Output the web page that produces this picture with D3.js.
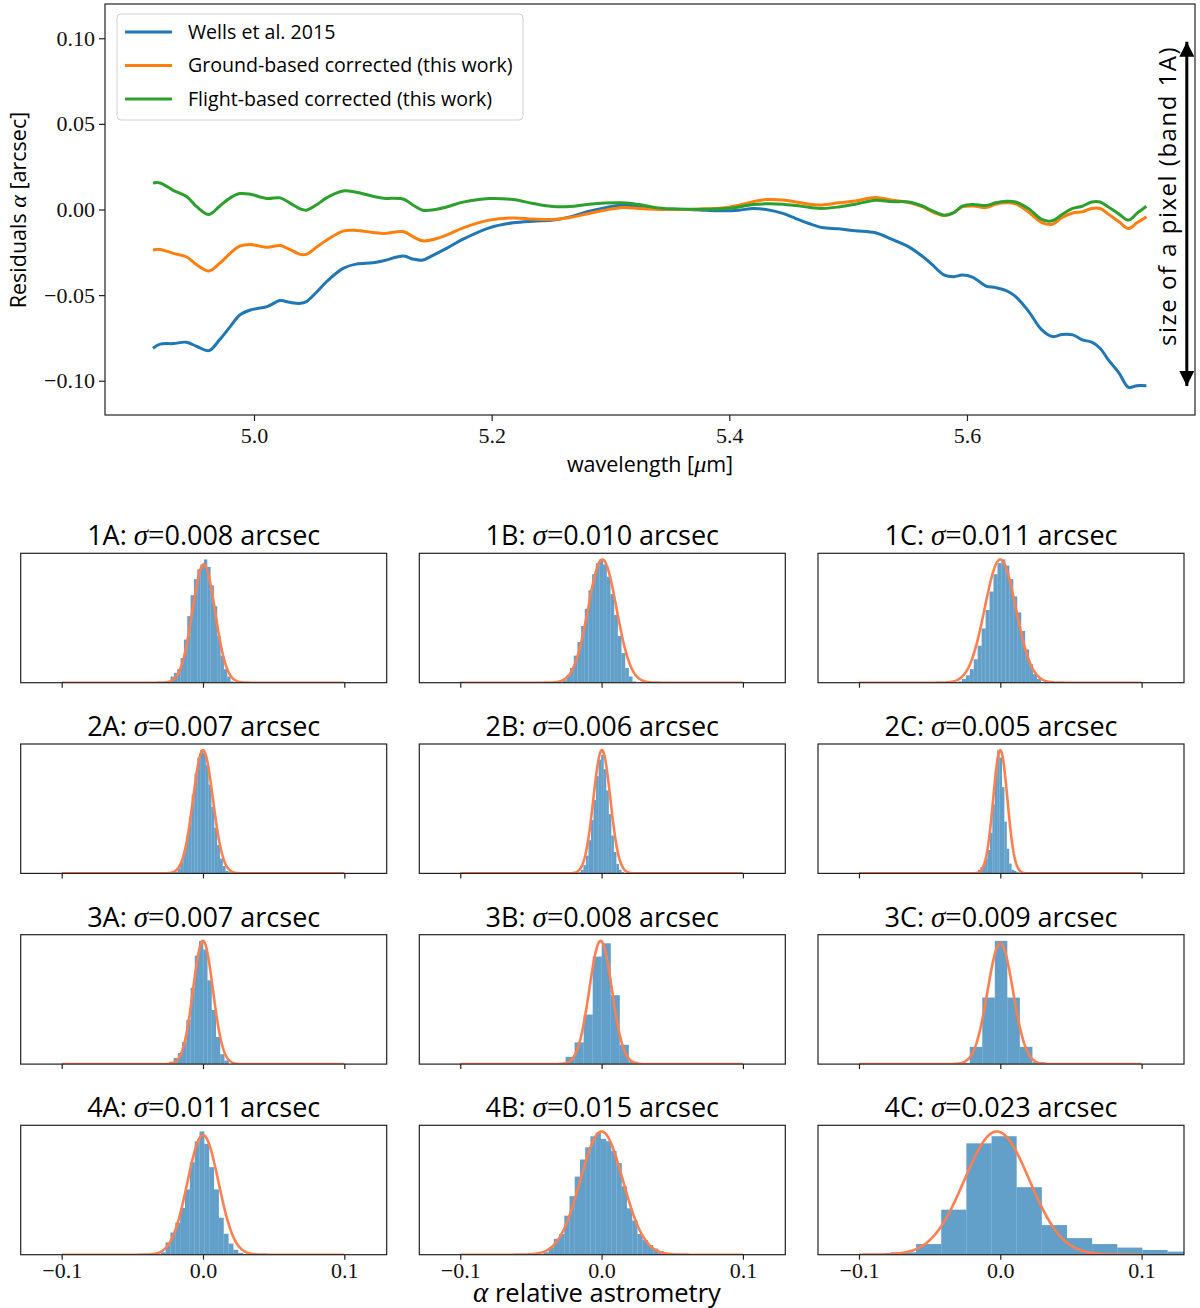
<!DOCTYPE html>
<html>
<head>
<meta charset="utf-8">
<script src="https://cdn.jsdelivr.net/npm/d3@7"></script>
<style>
  body { margin: 0; background: #fff; }
  svg text { font-family: "Open Sans", sans-serif; }
  .num { font-family: "Liberation Serif", serif; }
  .math { font-family: "Liberation Serif", serif; font-style: italic; }
</style>
</head>
<body>
<svg id="chart" width="1200" height="1308"></svg>
<script>
// ---- top panel: residuals vs wavelength ----
var wave = [4.915, 4.921, 4.932, 4.943, 4.952, 4.962, 4.971, 4.980, 4.988, 4.997, 5.011, 5.022, 5.030, 5.039, 5.044, 5.053, 5.061, 5.075, 5.086, 5.100, 5.109, 5.126, 5.134, 5.142, 5.151, 5.162, 5.176, 5.198, 5.218, 5.235, 5.252, 5.266, 5.282, 5.310,
            5.324, 5.338, 5.352, 5.366, 5.380, 5.394, 5.408, 5.420, 5.431, 5.445, 5.456, 5.467, 5.478, 5.492, 5.506, 5.523, 5.537, 5.551, 5.563, 5.571, 5.581, 5.589, 5.596, 5.605, 5.616, 5.624, 5.633, 5.641, 5.652, 5.663, 5.672, 5.680, 5.689, 5.697, 5.705, 5.712, 5.719, 5.728, 5.736, 5.743, 5.751]

var wells = [-0.0810, -0.0786, -0.0783, -0.0775, -0.0800, -0.0824, -0.0761, -0.0684, -0.0616, -0.0587, -0.0567, -0.0532, -0.0542, -0.0548, -0.0538, -0.0480, -0.0422, -0.0344, -0.0319, -0.0311, -0.0299, -0.0272, -0.0290, -0.0295, -0.0266, -0.0227, -0.0173, -0.0107, -0.0078, -0.0068, -0.0062, -0.0043, -0.0010, 0.0025,
             0.0019, 0.0004, 0.0000, 0.0000, -0.0004, -0.0008, -0.0004, 0.0006, 0.0000, -0.0023, -0.0053, -0.0082, -0.0105, -0.0113, -0.0124, -0.0136, -0.0175, -0.0218, -0.0276, -0.0324, -0.0383, -0.0392, -0.0383, -0.0396, -0.0447, -0.0456, -0.0474, -0.0509, -0.0596, -0.0703, -0.0742, -0.0730, -0.0732, -0.0761, -0.0775, -0.0810, -0.0878, -0.0955, -0.1039, -0.1029, -0.1029]

var ground = [-0.0237, -0.0233, -0.0256, -0.0276, -0.0324, -0.0359, -0.0315, -0.0256, -0.0214, -0.0204, -0.0221, -0.0210, -0.0233, -0.0262, -0.0262, -0.0218, -0.0179, -0.0126, -0.0122, -0.0134, -0.0140, -0.0130, -0.0160, -0.0183, -0.0175, -0.0150, -0.0107, -0.0062, -0.0049, -0.0056, -0.0058, -0.0047, -0.0023, 0.0012,
              0.0006, 0.0002, 0.0000, 0.0000, 0.0004, 0.0009, 0.0025, 0.0046, 0.0058, 0.0056, 0.0044, 0.0031, 0.0027, 0.0039, 0.0050, 0.0070, 0.0054, 0.0041, 0.0015, -0.0014, -0.0035, -0.0018, 0.0015, 0.0021, 0.0011, 0.0031, 0.0039, 0.0033, -0.0016, -0.0076, -0.0086, -0.0047, -0.0020, -0.0014, 0.0006, 0.0006, -0.0027, -0.0072, -0.0111, -0.0078, -0.0043]

var flight = [0.0155, 0.0155, 0.0112, 0.0077, 0.0015, -0.0029, 0.0019, 0.0068, 0.0093, 0.0089, 0.0064, 0.0068, 0.0039, 0.0004, -0.0004, 0.0029, 0.0068, 0.0108, 0.0101, 0.0077, 0.0066, 0.0060, 0.0025, -0.0004, -0.0002, 0.0015, 0.0043, 0.0064, 0.0058, 0.0035, 0.0017, 0.0017, 0.0031, 0.0039,
              0.0029, 0.0011, 0.0004, 0.0002, 0.0002, 0.0004, 0.0015, 0.0029, 0.0033, 0.0031, 0.0023, 0.0013, 0.0006, 0.0015, 0.0031, 0.0054, 0.0046, 0.0044, 0.0019, -0.0008, -0.0033, -0.0018, 0.0019, 0.0029, 0.0023, 0.0039, 0.0048, 0.0044, 0.0004, -0.0058, -0.0066, -0.0029, 0.0006, 0.0019, 0.0044, 0.0044, 0.0015, -0.0027, -0.0062, -0.0023, 0.0019]

var seriesNames = ["Wells et al. 2015", "Ground-based corrected (this work)", "Flight-based corrected (this work)"]
var seriesColors = ["#1f77b4", "#ff7f0e", "#2ca02c"]
var waveTicks = [5.0, 5.2, 5.4, 5.6]
var resTicks = [-0.10, -0.05, 0.00, 0.05, 0.10]
var pixelArrow = [0.098, -0.103]   // band 1A pixel size, drawn at wavelength 5.785

// ---- bottom panels: histograms of relative astrometry ----
var panelNames = ["1A", "1B", "1C", "2A", "2B", "2C", "3A", "3B", "3C", "4A", "4B", "4C"]
var panelSigmas = [0.008, 0.010, 0.011, 0.007, 0.006, 0.005, 0.007, 0.008, 0.009, 0.011, 0.015, 0.023]
var panelMeans = [0.0005, 0.0005, 0.0000, 0.0000, 0.0002, 0.0000, 0.0000, -0.0007, 0.0000, 0.0000, 0.0000, -0.0024]
var gaussPeaks = [0.96, 1.0, 1.0, 1.0, 1.04, 1.0, 1.0, 1.02, 0.98, 0.97, 1.01, 1.04]
var binStarts = [-0.0253, -0.0275, -0.0300, -0.0200, -0.0165, -0.0175, -0.0238, -0.0319, -0.0305, -0.0299, -0.0412, -0.0774]
var binWidths = [0.00236, 0.0026, 0.0028, 0.0020, 0.0018, 0.0017, 0.0030, 0.0064, 0.00887, 0.00343, 0.0037, 0.0178]
var binHeights = [
  [1, 5, 8, 11, 20, 35, 54, 71, 84, 92, 96, 100, 94, 79, 62, 38, 22, 11, 5, 1],
  [2, 6, 12, 22, 33, 46, 60, 75, 88, 97, 100, 96, 86, 72, 55, 38, 24, 12, 5, 1],
  [1, 3, 6, 11, 19, 30, 44, 59, 74, 88, 97, 100, 95, 84, 70, 57, 42, 27, 15, 7, 3],
  [1, 4, 9, 17, 30, 46, 64, 81, 94, 100, 98, 88, 72, 54, 37, 23, 12, 6, 2, 1],
  [1, 3, 7, 15, 28, 45, 62, 82, 96, 100, 88, 70, 50, 32, 18, 8, 3, 1],
  [1, 3, 5, 8, 12, 19, 33, 56, 83, 100, 94, 70, 42, 20, 8, 3, 2, 1, 0.5, 0.3],
  [2, 5, 9, 18, 36, 62, 88, 100, 93, 68, 44, 22, 8, 3],
  [1, 6, 18, 41, 89, 100, 57, 16, 2],
  [1, 14, 54, 100, 54, 14, 1.5],
  [2, 10, 18, 26, 38, 53, 75, 92, 100, 90, 71, 53, 30, 17, 9, 4, 1.5],
  [2, 6, 13, 17, 32, 48, 64, 78, 88, 97, 100, 95, 93, 85, 75, 56, 38, 28, 17, 12, 8, 5, 3, 1.5],
  [2, 9, 38, 94, 100, 57, 25, 14, 9, 6, 4, 2.6]
]
var histTicks = [-0.1, 0.0, 0.1]

var svg = d3.select("#chart")
var defs = svg.append("defs")

// ================= top panel =================
var box = {left: 105, right: 1195, top: 4, bottom: 415}

var xScale = d3.scaleLinear()
               .domain([4.8746, 5.7919])
               .range([box.left, box.right])

var yScale = d3.scaleLinear()
               .domain([-0.12, 0.12])
               .range([box.bottom, box.top])

var xAxis = svg.append("g")
               .attr("transform", "translate(0," + box.bottom + ")")
               .call(d3.axisBottom(xScale).tickValues(waveTicks).tickFormat(d3.format(".1f")).tickSize(6).tickSizeOuter(0))
xAxis.select(".domain").remove()
xAxis.selectAll("line").attr("stroke", "#222").attr("stroke-width", 1.2)
xAxis.selectAll("text").attr("class", "num").attr("font-size", 22).attr("fill", "#111").attr("dy", "0.85em")

var yAxis = svg.append("g")
               .attr("transform", "translate(" + box.left + ",0)")
               .call(d3.axisLeft(yScale).tickValues(resTicks).tickFormat(d3.format(".2f")).tickSize(6).tickSizeOuter(0))
yAxis.select(".domain").remove()
yAxis.selectAll("line").attr("stroke", "#222").attr("stroke-width", 1.2)
yAxis.selectAll("text").attr("class", "num").attr("font-size", 22).attr("fill", "#111").attr("x", -10)

defs.append("clipPath").attr("id", "topclip")
    .append("rect")
    .attr("x", box.left).attr("y", box.top)
    .attr("width", box.right - box.left).attr("height", box.bottom - box.top)

var series = [wells, ground, flight]
var line = d3.line()
             .x(function(d, i){ return xScale(wave[i]); })
             .y(function(d){ return yScale(d); })
             .curve(d3.curveCatmullRom)

svg.append("g").attr("clip-path", "url(#topclip)")
   .selectAll("path")
   .data(series)
   .enter()
   .append("path")
   .attr("d", function(d){ return line(d); })
   .attr("fill", "none")
   .attr("stroke", function(d, i){ return seriesColors[i]; })
   .attr("stroke-width", 3)
   .attr("stroke-linejoin", "round")

// pixel-size double arrow
defs.append("marker")
    .attr("id", "head")
    .attr("viewBox", "0 0 10 10")
    .attr("refX", 10).attr("refY", 5)
    .attr("markerUnits", "userSpaceOnUse")
    .attr("markerWidth", 24).attr("markerHeight", 15)
    .attr("orient", "auto-start-reverse")
    .append("path").attr("d", "M0,0 L10,5 L0,10 Z").attr("fill", "#000")

svg.append("line")
   .attr("x1", xScale(5.785)).attr("x2", xScale(5.785))
   .attr("y1", yScale(pixelArrow[0])).attr("y2", yScale(pixelArrow[1]))
   .attr("stroke", "#000").attr("stroke-width", 3)
   .attr("marker-start", "url(#head)")
   .attr("marker-end", "url(#head)")

svg.append("text")
   .attr("transform", "translate(1176,196) rotate(-90)")
   .attr("text-anchor", "middle")
   .attr("font-size", 24)
   .attr("letter-spacing", 1.5)
   .text("size of a pixel (band 1A)")

// frame
svg.append("rect")
   .attr("x", box.left).attr("y", box.top)
   .attr("width", box.right - box.left).attr("height", box.bottom - box.top)
   .attr("fill", "none").attr("stroke", "#222").attr("stroke-width", 1.2)

// legend
var legend = svg.append("g")
legend.append("rect")
      .attr("x", 117).attr("y", 14).attr("width", 406).attr("height", 106).attr("rx", 4)
      .attr("fill", "#fff").attr("fill-opacity", 0.8)
      .attr("stroke", "#d0d0d0")
var items = legend.selectAll("g.item")
                  .data(seriesNames)
                  .enter()
                  .append("g")
                  .attr("transform", function(d, i){ return "translate(0," + (32 + i * 33.5) + ")"; })
items.append("line")
     .attr("x1", 125).attr("x2", 172)
     .attr("stroke", function(d, i){ return seriesColors[i]; })
     .attr("stroke-width", 3)
items.append("text")
     .attr("x", 188).attr("dy", "0.35em")
     .attr("font-size", 19.6)
     .text(function(d){ return d; })

// axis labels
var yl = svg.append("text")
            .attr("transform", "translate(26,210) rotate(-90)")
            .attr("text-anchor", "middle")
            .attr("font-size", 21.5)
yl.append("tspan").text("Residuals ")
yl.append("tspan").attr("class", "math").attr("font-size", 24).text("α")
yl.append("tspan").text(" [arcsec]")

var xl = svg.append("text")
            .attr("x", 650).attr("y", 472)
            .attr("text-anchor", "middle")
            .attr("font-size", 21.5)
xl.append("tspan").text("wavelength [")
xl.append("tspan").attr("class", "math").attr("font-size", 24).text("μ")
xl.append("tspan").text("m]")

// ================= histogram grid =================
var colLefts = [20.7, 419.3, 818]
var rowTops = [553.3, 744, 934.7, 1125.3]
var pw = 366, ph = 129.4

panelNames.forEach(function(name, i)
{
  var r = Math.floor(i / 3), c = i % 3
  var left = colLefts[c], ptop = rowTops[r]
  var bottom = ptop + ph
  var heights = binHeights[i]
  var peak = gaussPeaks[i] * 100
  var ymax = 1.05 * Math.max(d3.max(heights), peak)

  var hx = d3.scaleLinear().domain([-0.129, 0.130]).range([left, left + pw])
  var hy = d3.scaleLinear().domain([0, ymax]).range([bottom, ptop])

  defs.append("clipPath").attr("id", "clip" + i)
      .append("rect").attr("x", left).attr("y", ptop).attr("width", pw).attr("height", ph)

  var g = svg.append("g")
  var plot = g.append("g").attr("clip-path", "url(#clip" + i + ")")

  plot.selectAll("rect")
      .data(heights)
      .enter()
      .append("rect")
      .attr("x", function(d, k){ return hx(binStarts[i] + k * binWidths[i]); })
      .attr("width", function(d, k){ return hx(binStarts[i] + (k + 1) * binWidths[i]) - hx(binStarts[i] + k * binWidths[i]); })
      .attr("y", function(d){ return hy(d); })
      .attr("height", function(d){ return bottom - hy(d); })
      .attr("fill", "#1f77b4")
      .attr("fill-opacity", 0.7)

  // fitted gaussian, evaluated from the sigma in the title
  var xs = d3.range(-0.1, 0.10001, 0.0005)
  var gauss = d3.line()
                .x(function(d){ return hx(d); })
                .y(function(d){ return hy(peak * Math.exp(-0.5 * Math.pow((d - panelMeans[i]) / panelSigmas[i], 2))); })
  plot.append("path")
      .attr("d", gauss(xs))
      .attr("fill", "none")
      .attr("stroke", "#ff7f50")
      .attr("stroke-width", 2.6)

  var ax = g.append("g")
            .attr("transform", "translate(0," + bottom + ")")
            .call(d3.axisBottom(hx).tickValues(histTicks).tickFormat(d3.format(".1f")).tickSize(5).tickSizeOuter(0))
  ax.select(".domain").remove()
  ax.selectAll("line").attr("stroke", "#222").attr("stroke-width", 1.2)
  if (r < 3) ax.selectAll("text").remove()
  else ax.selectAll("text").attr("class", "num").attr("font-size", 22).attr("fill", "#111").attr("dy", "0.68em")

  g.append("rect")
   .attr("x", left).attr("y", ptop).attr("width", pw).attr("height", ph)
   .attr("fill", "none").attr("stroke", "#222").attr("stroke-width", 1.2)

  var t = g.append("text")
           .attr("x", left + pw / 2).attr("y", ptop - 8)
           .attr("text-anchor", "middle")
           .attr("font-size", 27)
  t.append("tspan").text(name + ": ")
  t.append("tspan").attr("class", "math").attr("font-size", 29).text("σ")
  t.append("tspan").attr("class", "num").attr("font-size", 29).text("=")
  t.append("tspan").text(d3.format(".3f")(panelSigmas[i]) + " arcsec")
})

var bl = svg.append("text")
            .attr("x", 597).attr("y", 1302)
            .attr("text-anchor", "middle")
            .attr("font-size", 25.5)
bl.append("tspan").attr("class", "math").attr("font-size", 29).text("α")
bl.append("tspan").text(" relative astrometry")
</script>
</body>
</html>
